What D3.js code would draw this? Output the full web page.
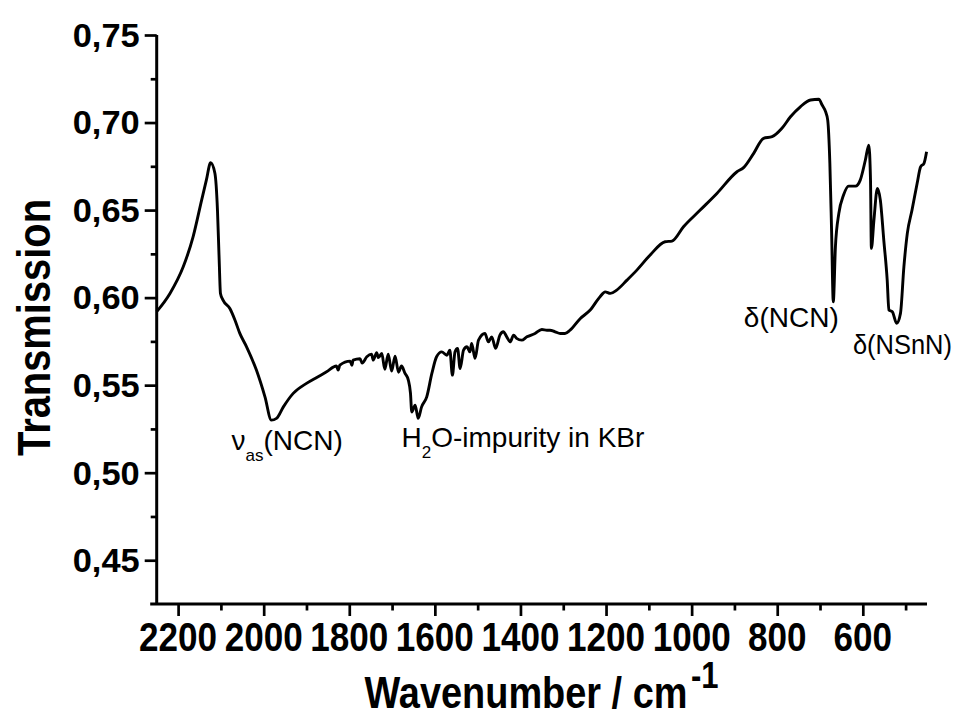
<!DOCTYPE html>
<html><head><meta charset="utf-8">
<script src="https://cdn.jsdelivr.net/npm/d3@7"></script>
<style>body{margin:0;background:#fff} svg{display:block}</style>
</head><body>
<svg id="chart" width="961" height="716"></svg>
<script>
// ---- data ----
const wavenumber = [
  2250, 2219, 2188, 2165, 2145, 2134, 2124, 2114, 2108, 2104,
  2101, 2095, 2079, 2067, 2056, 2040, 2017, 1997, 1982, 1970,
  1954, 1931, 1900, 1876, 1853, 1830, 1826, 1822, 1798, 1794,
  1791, 1775, 1770, 1759, 1748, 1744, 1736, 1732, 1724, 1717,
  1709, 1701, 1693, 1685, 1678, 1670, 1662, 1657, 1654, 1646,
  1639, 1631, 1619, 1607, 1596, 1584, 1572, 1565, 1559, 1553,
  1547, 1541, 1533, 1525, 1518, 1514, 1506, 1498, 1483, 1475,
  1467, 1458, 1448, 1440, 1432, 1424, 1416, 1409, 1397, 1385,
  1366, 1350, 1338, 1331, 1319, 1307, 1296, 1284, 1260, 1237,
  1214, 1202, 1190, 1175, 1151, 1128, 1097, 1062, 1046, 1019,
  980, 941, 894, 878, 855, 832, 812, 789, 769, 746,
  722, 703, 695, 687, 682, 677, 673, 669, 664, 656,
  645, 633, 617, 606, 594, 586, 582, 580, 574, 566,
  559, 551, 543, 539, 531, 521, 512, 504, 496, 485,
  473, 465, 457, 451
];
const transmission = [
  0.592, 0.6024, 0.6176, 0.6347, 0.6557, 0.6671, 0.677, 0.671, 0.650, 0.6214,
  0.6024, 0.5986, 0.5938, 0.5871, 0.5797, 0.5719, 0.5586, 0.5433, 0.530, 0.531,
  0.5376, 0.5453, 0.551, 0.5544, 0.5576, 0.5609, 0.5586, 0.5614, 0.5637, 0.5614,
  0.5643, 0.5651, 0.5626, 0.5662, 0.5677, 0.5643, 0.5686, 0.5657, 0.5681, 0.5591,
  0.5677, 0.558, 0.5666, 0.5574, 0.5609, 0.5569, 0.5529, 0.5454, 0.5347, 0.5386,
  0.531, 0.5376, 0.5433, 0.5567, 0.5662, 0.569, 0.5671, 0.570, 0.5557, 0.569,
  0.571, 0.5595, 0.570, 0.5719, 0.569, 0.5738, 0.5653, 0.5757, 0.5795, 0.5747,
  0.5776, 0.571, 0.5786, 0.5805, 0.5776, 0.5747, 0.5786, 0.5767, 0.5757, 0.5776,
  0.5795, 0.5818, 0.5814, 0.5814, 0.5805, 0.5795, 0.5795, 0.5814, 0.5881, 0.5929,
  0.6005, 0.6033, 0.6024, 0.6043, 0.610, 0.6157, 0.6243, 0.6319, 0.6323, 0.6405,
  0.650, 0.6595, 0.6719, 0.6744, 0.6824, 0.691, 0.6919, 0.6967, 0.7033, 0.709,
  0.7129, 0.7133, 0.710, 0.7062, 0.7014, 0.6767, 0.6386, 0.5976, 0.629, 0.6481,
  0.6586, 0.6637, 0.6637, 0.6671, 0.6786, 0.6871, 0.6671, 0.6281, 0.6443, 0.6624,
  0.6557, 0.6329, 0.610, 0.5929, 0.5919, 0.5853, 0.591, 0.6176, 0.6367, 0.650,
  0.6653, 0.6747, 0.6767, 0.6833
];
const xDomain = [2250, 450];
const yDomain = [0.425, 0.75];
const xMajorTicks = [2200, 2000, 1800, 1600, 1400, 1200, 1000, 800, 600];
const xMinorTicks = [2100, 1900, 1700, 1500, 1300, 1100, 900, 700, 500];
const yMajorTicks = [0.45, 0.50, 0.55, 0.60, 0.65, 0.70, 0.75];
const yMinorTicks = [0.475, 0.525, 0.575, 0.625, 0.675, 0.725];
const xTitle = "Wavenumber / cm";
const xTitleSup = "-1";
const yTitle = "Transmission";

// ---- drawing ----
const FONT = "'Liberation Sans', Arial, Helvetica, sans-serif";
const svg = d3.select("#chart");
const x = d3.scaleLinear().domain(xDomain).range([156.7, 927]);
const y = d3.scaleLinear().domain(yDomain).range([604, 35]);
const fmtY = v => d3.format(".2f")(v).replace(".", ",");

// curve
const pts = wavenumber.map((w, i) => [w, transmission[i]]);
svg.append("path").datum(pts)
  .attr("fill", "none").attr("stroke", "#000").attr("stroke-width", 2.9)
  .attr("stroke-linejoin", "round")
  .attr("d", d3.line().x(d => x(d[0])).y(d => y(d[1])).curve(d3.curveMonotoneX));

function styleAxis(g, width) {
  g.selectAll("path.domain").remove();
  g.selectAll("line").attr("stroke", "#000").attr("stroke-width", width);
}
// y axis
svg.append("g").attr("transform", `translate(${x(xDomain[0])},0)`)
  .call(d3.axisLeft(y).tickValues(yMajorTicks).tickSize(12).tickSizeOuter(0).tickFormat(""))
  .call(g => styleAxis(g, 2.7));
svg.append("g").attr("transform", `translate(${x(xDomain[0])},0)`)
  .call(d3.axisLeft(y).tickValues(yMinorTicks).tickSize(6).tickSizeOuter(0).tickFormat(""))
  .call(g => styleAxis(g, 2.7));
svg.append("line")
  .attr("x1", x(xDomain[0])).attr("x2", x(xDomain[0]))
  .attr("y1", y(yDomain[1])).attr("y2", y(yDomain[0]))
  .attr("stroke", "#000").attr("stroke-width", 3);
// x axis
svg.append("g").attr("transform", `translate(0,${y(yDomain[0])})`)
  .call(d3.axisBottom(x).tickValues(xMajorTicks).tickSize(12).tickSizeOuter(0).tickFormat(""))
  .call(g => styleAxis(g, 2.7));
svg.append("g").attr("transform", `translate(0,${y(yDomain[0])})`)
  .call(d3.axisBottom(x).tickValues(xMinorTicks).tickSize(6.5).tickSizeOuter(0).tickFormat(""))
  .call(g => styleAxis(g, 2.7));
svg.append("line")
  .attr("x1", x(xDomain[0]) - 6.5).attr("x2", x(xDomain[1]))
  .attr("y1", y(yDomain[0])).attr("y2", y(yDomain[0]))
  .attr("stroke", "#000").attr("stroke-width", 3);

// tick labels
svg.append("g").selectAll("text").data(yMajorTicks).join("text")
  .attr("x", x(xDomain[0]) - 17).attr("y", d => y(d)).attr("dy", "0.36em")
  .attr("text-anchor", "end").attr("font-family", FONT).attr("font-weight", "bold")
  .attr("font-size", 33).attr("textLength", 67).attr("lengthAdjust", "spacingAndGlyphs")
  .text(fmtY);
svg.append("g").selectAll("text").data(xMajorTicks).join("text")
  .attr("x", d => x(d)).attr("y", y(yDomain[0]) + 47)
  .attr("text-anchor", "middle").attr("font-family", FONT).attr("font-weight", "bold")
  .attr("font-size", 40)
  .attr("textLength", d => String(d).length * 19.5).attr("lengthAdjust", "spacingAndGlyphs")
  .text(d => String(d));

// axis titles
svg.append("text")
  .attr("transform", `translate(50,${(y(yDomain[0]) + y(yDomain[1])) / 2 + 8}) rotate(-90)`)
  .attr("text-anchor", "middle").attr("font-family", FONT).attr("font-weight", "bold")
  .attr("font-size", 47).attr("textLength", 257).attr("lengthAdjust", "spacingAndGlyphs")
  .text(yTitle);
const xt = svg.append("text")
  .attr("x", 364.5).attr("y", 708)
  .attr("font-family", FONT).attr("font-weight", "bold")
  .attr("font-size", 44).attr("textLength", 354).attr("lengthAdjust", "spacingAndGlyphs");
xt.append("tspan").text(xTitle);
xt.append("tspan").attr("font-size", 36).attr("dy", -20).attr("dx", 4).text(xTitleSup);

// annotations (anchored in data coordinates)
function ann(w, t, parts, len) {
  const tx = svg.append("text").attr("x", x(w)).attr("y", y(t))
    .attr("font-family", FONT).attr("font-size", 28).attr("fill", "#000");
  if (len) tx.attr("textLength", len).attr("lengthAdjust", "spacingAndGlyphs");
  parts.forEach(p => {
    const s = tx.append("tspan").text(p.t);
    if (p.sub) s.attr("font-size", 17).attr("dy", 11);
    else if (p.back) s.attr("dy", -11);
  });
}
ann(2075, 0.5129, [{t: "\u03BD"}, {t: "as", sub: true}, {t: "(NCN)", back: true}]);
ann(1678, 0.5146, [{t: "H"}, {t: "2", sub: true}, {t: "O-impurity in KBr", back: true}]);
ann(878, 0.5831, [{t: "\u03B4(NCN)"}]);
ann(623, 0.5677, [{t: "\u03B4(NSnN)"}], 99);
</script>
</body></html>
